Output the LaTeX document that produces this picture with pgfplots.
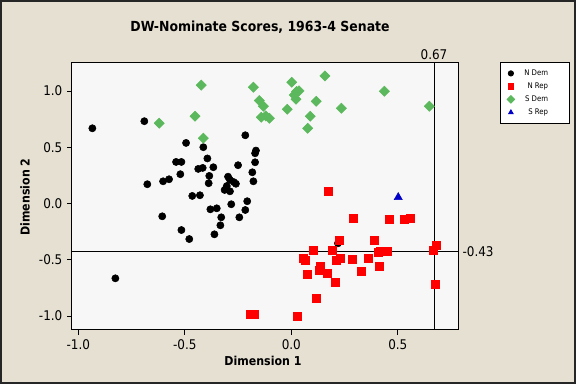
\documentclass[border=0pt]{standalone}
\usepackage{pgfplots}
\pgfplotsset{compat=1.18}
\usepackage{fontspec}
\setmainfont{DejaVu Sans Condensed}
\definecolor{bgbeige}{HTML}{E6E0D3}
\definecolor{plotbg}{HTML}{F7F7F7}
\definecolor{sdem}{HTML}{5CB85C}
\definecolor{srep}{HTML}{0000C8}
\definecolor{nrep}{HTML}{FF0000}
\newcommand{\lpad}{\rule{8.75pt}{0pt}}
\begin{document}
\begin{tikzpicture}
\fill[bgbeige] (0pt,0pt) rectangle (432pt,288pt);
\draw[line width=1.5pt, black!85] (0.75pt,0.75pt) rectangle (431.25pt,287.25pt);
\node[font=\bfseries\fontsize{10.4}{12}\selectfont] at (195pt,267.75pt) {DW-Nominate Scores, 1963-4 Senate};
\node[font=\bfseries\fontsize{9.2}{11}\selectfont] at (197.25pt,17.25pt) {Dimension 1};
\node[font=\bfseries\fontsize{9.2}{11}\selectfont, rotate=90] at (18.75pt,140.25pt) {Dimension 2};
\begin{axis}[
  at={(53.775pt,40.5pt)}, anchor=south west,
  scale only axis, width=289.95pt, height=200.5pt,
  xmin=-1.031, xmax=0.784, ymin=-1.124, ymax=1.251,
  axis background/.style={fill=plotbg},
  axis line style={black, line width=0.75pt},
  tick align=outside, xtick pos=left, ytick pos=left,
  major tick length=3.5pt,
  tick style={black, line width=0.6pt},
  xtick={-1,-0.5,0,0.5}, xticklabels={-1.0,-0.5,0.0,0.5},
  ytick={-1,-0.5,0,0.5,1}, yticklabels={-1.0,-0.5,0.0,0.5,1.0},
  tick label style={font=\fontsize{10}{12}\selectfont},
  clip=false,
  legend image code/.code={\draw[mark repeat=2,mark phase=2,#1] plot coordinates {(0pt,0pt) (5pt,0pt) (10pt,0pt)};},
  legend image post style={mark size=2pt},
  legend style={at={(rel axis cs:1.108,1.003)}, anchor=north west,
    draw=black, fill=white, line width=0.6pt,
    font=\fontsize{5.8}{7}\selectfont, row sep=0pt,
    inner xsep=5pt, inner ysep=3.5pt,
    /tikz/every odd column/.append style={column sep=5.25pt}},
  legend cell align=right,
]
\addplot[only marks, mark=*, mark size=2.7pt, color=black] coordinates {
(-0.934,0.668) (-0.690,0.731) (-0.494,0.538) (-0.216,0.606) (-0.413,0.50)
(-0.166,0.47) (-0.17,0.446) (-0.394,0.40) (-0.541,0.369) (-0.516,0.369)
(-0.17,0.366) (-0.437,0.307) (-0.416,0.316) (-0.366,0.322) (-0.250,0.34)
(-0.521,0.26) (-0.385,0.245) (-0.183,0.277) (-0.676,0.171) (-0.602,0.197)
(-0.574,0.215) (-0.388,0.18) (-0.178,0.197) (-0.297,0.238) (-0.288,0.21)
(-0.27,0.19) (-0.26,0.175) (-0.303,0.155) (-0.307,0.13) (-0.288,0.108)
(-0.313,0.12) (-0.465,0.067) (-0.429,0.073) (-0.207,0.02) (-0.282,-0.007)
(-0.38,-0.052) (-0.35,-0.043) (-0.216,-0.058) (-0.606,-0.114) (-0.329,-0.123)
(-0.244,-0.123) (-0.333,-0.194) (-0.516,-0.236) (-0.361,-0.274) (-0.479,-0.316)
(-0.826,-0.665) (0.219,-0.354)
};
\addlegendentry{N Dem\lpad}
\addplot[only marks, mark=square*, mark size=2.9pt, color=nrep] coordinates {
(0.174,0.108) (0.291,-0.132) (0.460,-0.140) (0.529,-0.140) (0.557,-0.132)
(0.225,-0.324) (0.39,-0.327) (0.681,-0.372) (0.665,-0.416) (0.103,-0.416)
(0.192,-0.416) (0.408,-0.431) (0.415,-0.422) (0.451,-0.425) (0.056,-0.487)
(0.066,-0.505) (0.211,-0.505) (0.229,-0.487) (0.286,-0.496) (0.362,-0.487)
(0.136,-0.558) (0.13,-0.594) (0.075,-0.629) (0.169,-0.618) (0.329,-0.60)
(0.413,-0.558) (0.207,-0.70) (0.676,-0.718) (0.117,-0.843) (-0.194,-0.985)
(-0.175,-0.985) (0.028,-1.003)
};
\addlegendentry{N Rep\lpad}
\addplot[only marks, mark=square*, mark size=2.7pt, mark options={rotate=45}, color=sdem] coordinates {
(-0.423,1.051) (-0.178,1.033) (-0.150,0.914) (-0.131,0.864) (-0.452,0.775)
(-0.620,0.713) (-0.141,0.766) (-0.12,0.778) (-0.103,0.757) (-0.413,0.58)
(0.002,1.077) (0.158,1.133) (0.025,0.994) (0.036,1.0) (0.014,0.964)
(0.022,0.926) (0.117,0.908) (-0.019,0.837) (0.235,0.846) (0.089,0.775)
(0.077,0.668) (0.437,0.997) (0.648,0.864)
};
\addlegendentry{S Dem\lpad}
\addplot[only marks, mark=triangle*, mark size=3.5pt, color=srep] coordinates {
(0.502,0.055)
};
\addlegendentry{S Rep\lpad}
\draw[black, line width=0.75pt] (axis cs:0.67,-1.124) -- (axis cs:0.67,1.251);
\draw[black, line width=0.75pt] (axis cs:-1.031,-0.43) -- (axis cs:0.784,-0.43);
\node[above, font=\fontsize{10}{12}\selectfont, inner sep=2pt] at (axis cs:0.67,1.251) {0.67};
\node[right, font=\fontsize{10}{12}\selectfont, inner sep=3pt] at (axis cs:0.784,-0.43) {-0.43};
\end{axis}
\pgfresetboundingbox
\useasboundingbox (0pt,0pt) rectangle (432pt,288pt);
\end{tikzpicture}
\end{document}
